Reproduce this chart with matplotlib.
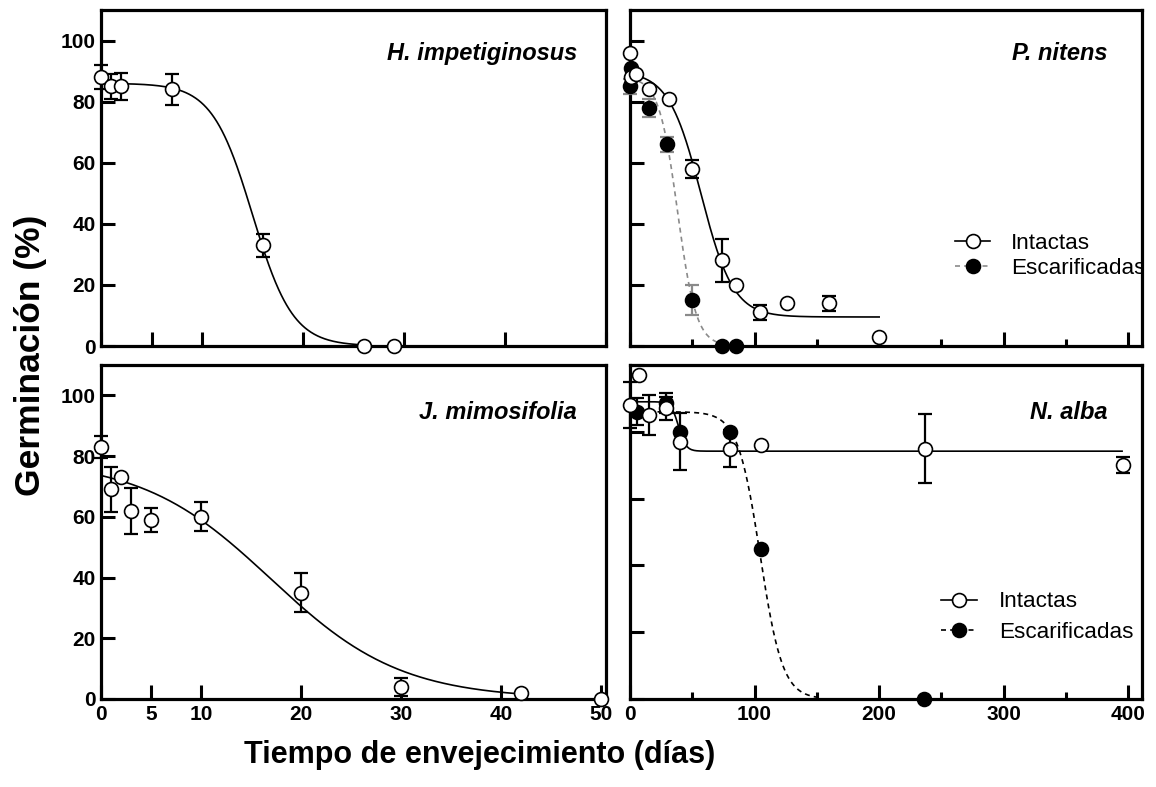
import numpy as np
import matplotlib
matplotlib.use("Agg")
import matplotlib.pyplot as plt
from matplotlib.lines import Line2D
from matplotlib.ticker import MultipleLocator, FixedLocator

plt.rcParams['font.family'] = ['Liberation Sans', 'DejaVu Sans']

# ---------------- data ----------------
# H. impetiginosus (intactas)
h_x = [0, 1, 2, 7, 16, 26, 29]
h_y = [88, 85, 85, 84, 33, 0, 0]
h_err = [4, 4, 4.5, 5, 3.7, 0, 0]
h_fit = [86, 0, 15, 2.0]          # top, bottom, x50, slope
h_fit_range = [0, 26]

# P. nitens
pi_x = [0, 1, 5, 15, 31, 50, 74, 85, 104, 126, 160, 200]
pi_y = [96, 88, 89, 84, 81, 58, 28, 20, 11, 14, 14, 3]
pi_err = [0, 0, 0, 0, 0, 3, 7, 0, 2.5, 0, 2.5, 0]
pi_fit = [90, 9.5, 57, 13]
pi_fit_range = [0, 200]
ps_x = [0, 1, 15, 30, 50, 74, 85]
ps_y = [85, 91, 78, 66, 15, 0, 0]
ps_err = [2.5, 4.5, 3, 2.5, 5, 0, 0]
ps_fit = [88, 0, 38.2, 7.5]
ps_fit_range = [0, 75]

# J. mimosifolia
j_x = [0, 1, 2, 3, 5, 10, 20, 30, 42, 50]
j_y = [83, 69, 73, 62, 59, 60, 35, 4, 2, 0]
j_err = [3.5, 7.5, 0, 7.5, 4, 4.8, 6.5, 3, 0, 0]
j_fit = [79, 0, 17, 6.5]
j_fit_range = [0, 42]

# N. alba
ni_x = [0, 7, 15, 29, 40, 80, 105, 237, 396]
ni_y = [88, 97, 85, 87, 77, 75, 76, 75, 70]
ni_err = [7, 0, 6, 3.5, 8.5, 5.5, 0, 10.3, 2.4]
ni_fit = [89, 74.2, 39, 3.0]
ni_fit_range = [0, 395]
ns_x = [6, 29, 40, 80, 105, 236]
ns_y = [86, 88.5, 80, 80, 45, 0]
ns_err = [4, 3, 0, 0, 0, 0]
ns_fit = [86, 0, 104.5, 9.0]
ns_fit_range = [0, 150]

species = ["H. impetiginosus", "P. nitens", "J. mimosifolia", "N. alba"]
legend_labels = ["Intactas", "Escarificadas"]
ylabel = "Germinación (%)"
xlabel = "Tiempo de envejecimiento (días)"


def logistic(x, p):
    top, bottom, x50, slope = p
    return bottom + (top - bottom) / (1.0 + np.exp((x - x50) / slope))


# ---------------- figure ----------------
fig = plt.figure(figsize=(11.56, 7.87), dpi=100)
W, H = 1156.0, 787.0

def add_ax(x0, y0, x1, y1):
    return fig.add_axes([x0 / W, 1 - y1 / H, (x1 - x0) / W, (y1 - y0) / H])

ax_h = add_ax(101, 10, 606, 346)
ax_p = add_ax(630, 10, 1142, 346)
ax_j = add_ax(101, 365, 606, 699)
ax_n = add_ax(630, 365, 1142, 699)

MS = 10
LW_FIT = 1.2
GRAY = '#8a8a8a'
LEG_FS = 16.2


def style(ax):
    for s in ax.spines.values():
        s.set_linewidth(2.3)
    ax.tick_params(which='major', direction='in', length=10, width=2.2,
                   labelsize=15, pad=4)
    ax.tick_params(which='minor', direction='in', length=5, width=2.2)
    for lab in ax.get_xticklabels() + ax.get_yticklabels():
        lab.set_fontweight('bold')


def plot_series(ax, x, y, err, fill, ecolor='k'):
    ax.errorbar(x, y, yerr=err, fmt='none', ecolor=ecolor, elinewidth=1.6,
                capsize=5, capthick=1.6, zorder=3, clip_on=False)
    ax.plot(x, y, linestyle='none', marker='o', ms=MS, mfc=fill, mec='k',
            mew=1.2, zorder=4, clip_on=False)


def plot_fit(ax, p, rng, **kw):
    xx = np.linspace(rng[0], rng[1], 400)
    ax.plot(xx, logistic(xx, p), zorder=2, **kw)


# H. impetiginosus
plot_fit(ax_h, h_fit, h_fit_range, color='k', lw=LW_FIT)
plot_series(ax_h, h_x, h_y, h_err, 'white')

# P. nitens
plot_fit(ax_p, ps_fit, ps_fit_range, color=GRAY, lw=LW_FIT, ls=(0, (3, 2.5)))
plot_fit(ax_p, pi_fit, pi_fit_range, color='k', lw=LW_FIT)
plot_series(ax_p, ps_x, ps_y, ps_err, 'k', ecolor=GRAY)
plot_series(ax_p, pi_x, pi_y, pi_err, 'white')

# J. mimosifolia
plot_fit(ax_j, j_fit, j_fit_range, color='k', lw=LW_FIT)
plot_series(ax_j, j_x, j_y, j_err, 'white')

# N. alba
plot_fit(ax_n, ns_fit, ns_fit_range, color='k', lw=LW_FIT, ls=(0, (3, 2.5)))
plot_fit(ax_n, ni_fit, ni_fit_range, color='k', lw=LW_FIT)
plot_series(ax_n, ns_x, ns_y, ns_err, 'k')
plot_series(ax_n, ni_x, ni_y, ni_err, 'white')

# axes limits and ticks
for ax in (ax_h, ax_j):
    ax.set_ylim(0, 110)
    ax.yaxis.set_major_locator(FixedLocator([0, 20, 40, 60, 80, 100]))
ax_h.set_xlim(0, 50)
ax_j.set_xlim(0, 50.5)
for ax in (ax_h, ax_j):
    ax.xaxis.set_major_locator(FixedLocator([0, 5, 10, 20, 30, 40, 50]))

ax_p.set_ylim(0, 110)
ax_p.yaxis.set_major_locator(FixedLocator([0, 20, 40, 60, 80, 100]))
ax_n.set_ylim(0, 100)
ax_n.yaxis.set_major_locator(FixedLocator([0, 20, 40, 60, 80, 100]))
for ax in (ax_p, ax_n):
    ax.set_xlim(0, 411)
    ax.xaxis.set_major_locator(MultipleLocator(100))
    ax.xaxis.set_minor_locator(MultipleLocator(50))

for ax in (ax_h, ax_p, ax_j, ax_n):
    style(ax)

ax_h.tick_params(labelbottom=False)
ax_p.tick_params(labelbottom=False, labelleft=False)
ax_n.tick_params(labelleft=False)

# species labels
for ax, name, dx, yf in [(ax_h, species[0], -21, 0.872), (ax_p, species[1], -25, 0.872),
                         (ax_j, species[2], -21, 0.859), (ax_n, species[3], -25, 0.859)]:
    ax.annotate(name, xy=(1, yf), xycoords='axes fraction', xytext=(dx, 0),
                textcoords='offset points', ha='right', va='center',
                fontsize=17, fontweight='bold', fontstyle='italic')

# legends
def make_handles(dash_color):
    h1 = Line2D([], [], color='k', lw=LW_FIT, marker='o', ms=MS, mfc='white', mec='k', mew=1.2)
    h2 = Line2D([], [], color=dash_color, lw=LW_FIT, ls=(0, (3, 2.5)), marker='o', ms=MS,
                mfc='k', mec='k', mew=1.2)
    return [h1, h2]

leg_p = ax_p.legend(make_handles(GRAY), legend_labels, loc='center left',
                    bbox_to_anchor=(0.635, 0.268), frameon=False, fontsize=LEG_FS,
                    handlelength=1.55, handletextpad=0.93, labelspacing=0.21,
                    borderpad=0, borderaxespad=0, numpoints=1)
for t in leg_p.get_texts():
    t.set_clip_box(ax_p.bbox)
    t.set_clip_on(True)

leg_n = ax_n.legend(make_handles('k'), legend_labels, loc='center left',
                    bbox_to_anchor=(0.607, 0.2455), frameon=False, fontsize=LEG_FS,
                    handlelength=1.6, handletextpad=0.98, labelspacing=0.41,
                    borderpad=0, borderaxespad=0, numpoints=1)

fig.text(0.026, 0.549, ylabel, rotation=90, ha='center', va='center',
         fontsize=25.5, fontweight='bold')
fig.text(0.415, 0.041, xlabel, ha='center', va='center',
         fontsize=22, fontweight='bold')

fig.savefig("out.png", dpi=100)
